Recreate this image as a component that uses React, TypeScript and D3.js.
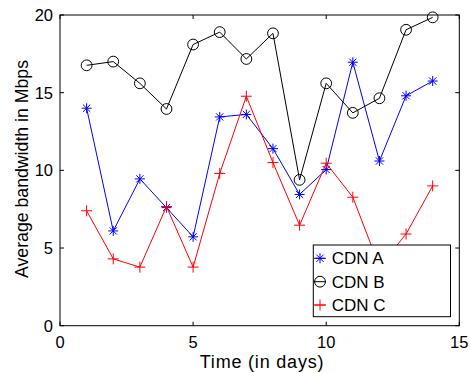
import React from "react";
import * as d3 from "d3";

// Daily average bandwidth (Mbps) for three CDNs
const days = [1, 2, 3, 4, 5, 6, 7, 8, 9, 10, 11, 12, 13, 14];
const cdnA = [14.0, 6.1, 9.45, 7.6, 5.72, 13.44, 13.6, 11.4, 8.45, 10.05, 16.96, 10.6, 14.8, 15.75];
const cdnB = [16.76, 17.0, 15.6, 13.95, 18.1, 18.9, 17.17, 18.82, 9.39, 15.6, 13.7, 14.64, 19.05, 19.85];
const cdnC = [7.4, 4.3, 3.77, 7.67, 3.77, 9.8, 14.77, 10.5, 6.47, 10.46, 8.27, 3.8, 5.9, 9.0];
const seriesNames = ["CDN A", "CDN B", "CDN C"];
const xTicks = [0, 5, 10, 15];
const yTicks = [0, 5, 10, 15, 20];

const W = 470;
const H = 373;
const left = 60, right = 459.3, top = 15, bottom = 325.7;
const FONT = "'Liberation Sans', Arial, Helvetica, sans-serif";

type MarkerKind = "star" | "circle" | "plus";

function Marker({ kind, x, y, color }: { kind: MarkerKind; x: number; y: number; color: string }) {
  if (kind === "circle") {
    return <circle cx={x} cy={y} r={5.4} fill="none" stroke={color} strokeWidth={1} />;
  }
  if (kind === "plus") {
    const s = 5.5;
    return (
      <g stroke={color} strokeWidth={1}>
        <line x1={x - s} y1={y} x2={x + s} y2={y} />
        <line x1={x} y1={y - s} x2={x} y2={y + s} />
      </g>
    );
  }
  const s = 5;
  const d = 3.6;
  return (
    <g stroke={color} strokeWidth={1}>
      <line x1={x - s} y1={y} x2={x + s} y2={y} />
      <line x1={x} y1={y - s} x2={x} y2={y + s} />
      <line x1={x - d} y1={y - d} x2={x + d} y2={y + d} />
      <line x1={x - d} y1={y + d} x2={x + d} y2={y - d} />
    </g>
  );
}

export default function App() {
  const x = d3.scaleLinear().domain([0, 15]).range([left, right]);
  const y = d3.scaleLinear().domain([0, 20]).range([bottom, top]);

  const series: { name: string; values: number[]; color: string; kind: MarkerKind }[] = [
    { name: seriesNames[0], values: cdnA, color: "#0000ff", kind: "star" },
    { name: seriesNames[1], values: cdnB, color: "#000000", kind: "circle" },
    { name: seriesNames[2], values: cdnC, color: "#ff0000", kind: "plus" },
  ];

  const line = d3
    .line<number>()
    .x((_, i) => x(days[i]))
    .y((v) => y(v));

  const tickLen = 4;
  const legend = { x0: 313.3, x1: 450.5, y0: 245, y1: 316.7 };
  const rowY = [258.3, 281.7, 305];

  return (
    <svg width={W} height={H} style={{ position: "absolute", left: 0, top: 0, background: "#fff" }}>
      <rect x={0} y={0} width={W} height={H} fill="#fff" />
      {/* data */}
      {series.map((s) => (
        <g key={s.name}>
          <path d={line(s.values) ?? ""} fill="none" stroke={s.color} strokeWidth={1} />
          {s.values.map((v, i) => (
            <Marker key={i} kind={s.kind} x={x(days[i])} y={y(v)} color={s.color} />
          ))}
        </g>
      ))}

      {/* axes box and inward ticks */}
      <rect x={left} y={top} width={right - left} height={bottom - top} fill="none" stroke="#000" strokeWidth={1} />
      {xTicks.map((t) => (
        <g key={"xt" + t} stroke="#000" strokeWidth={1}>
          <line x1={x(t)} y1={bottom} x2={x(t)} y2={bottom - tickLen} />
          <line x1={x(t)} y1={top} x2={x(t)} y2={top + tickLen} />
        </g>
      ))}
      {yTicks.map((t) => (
        <g key={"yt" + t} stroke="#000" strokeWidth={1}>
          <line x1={left} y1={y(t)} x2={left + tickLen} y2={y(t)} />
          <line x1={right} y1={y(t)} x2={right - tickLen} y2={y(t)} />
        </g>
      ))}
      {xTicks.map((t) => (
        <text key={"xl" + t} x={x(t)} y={347.5} textAnchor="middle" fontFamily={FONT} fontSize={16.5} fill="#000">
          {t}
        </text>
      ))}
      {yTicks.map((t) => (
        <text
          key={"yl" + t}
          x={left - 7}
          y={y(t)}
          dy="0.36em"
          textAnchor="end"
          fontFamily={FONT}
          fontSize={16.5}
          fill="#000"
        >
          {t}
        </text>
      ))}

      {/* axis titles */}
      <text x={262} y={368.3} textAnchor="middle" fontFamily={FONT} fontSize={18} letterSpacing={0.8} fill="#000">
        Time (in days)
      </text>
      <text
        transform={`translate(28,169) rotate(-90)`}
        textAnchor="middle"
        fontFamily={FONT}
        fontSize={17.7}
        fill="#000"
      >
        Average bandwidth in Mbps
      </text>

      {/* legend */}
      <rect
        x={legend.x0}
        y={legend.y0}
        width={legend.x1 - legend.x0}
        height={legend.y1 - legend.y0}
        fill="#fff"
        stroke="#000"
        strokeWidth={1}
      />
      {series.map((s, i) => (
        <g key={"lg" + s.name}>
          <line x1={314} y1={rowY[i]} x2={326} y2={rowY[i]} stroke={s.color} strokeWidth={1} />
          <Marker kind={s.kind} x={320} y={rowY[i]} color={s.color} />
          <text x={331.7} y={rowY[i]} dy="0.36em" fontFamily={FONT} fontSize={17} fill="#000">
            {s.name}
          </text>
        </g>
      ))}
    </svg>
  );
}
